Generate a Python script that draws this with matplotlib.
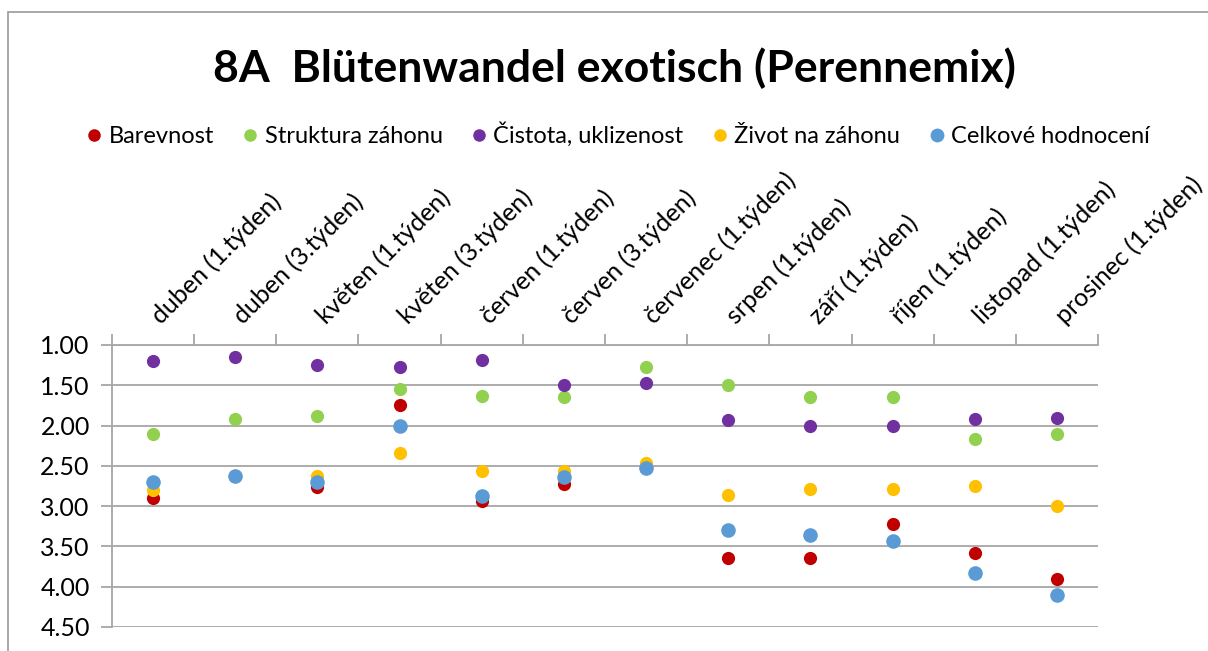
import matplotlib.pyplot as plt
import matplotlib.patches as mpatches

plt.rcParams['font.family'] = ['Lato', 'DejaVu Sans']

#kategorie (termíny hodnocení)
terminy = ['duben (1.týden)', 'duben (3.týden)', 'květen (1.týden)', 'květen (3.týden)',
           'červen (1.týden)', 'červen (3.týden)', 'červenec (1.týden)', 'srpen (1.týden)',
           'září (1.týden)', 'říjen (1.týden)', 'listopad (1.týden)', 'prosinec (1.týden)']

barevnost = [2.90, 2.62, 2.76, 1.74, 2.94, 2.72, 2.53, 3.64, 3.64, 3.22, 3.58, 3.90]
struktura = [2.10, 1.92, 1.88, 1.54, 1.63, 1.65, 1.27, 1.50, 1.65, 1.65, 2.17, 2.10]
cistota = [1.20, 1.15, 1.25, 1.27, 1.19, 1.50, 1.47, 1.93, 2.00, 2.00, 1.92, 1.90]
zivot = [2.80, 2.62, 2.62, 2.34, 2.56, 2.57, 2.46, 2.86, 2.79, 2.79, 2.75, 3.00]
celkove = [2.70, 2.62, 2.70, 2.00, 2.88, 2.64, 2.53, 3.29, 3.36, 3.43, 3.83, 4.10]

serie = [
    ('Barevnost', barevnost, '#C00000', 9.5),
    ('Struktura záhonu', struktura, '#92D050', 9.5),
    ('Čistota, uklizenost', cistota, '#7030A0', 9.5),
    ('Život na záhonu', zivot, '#FFC000', 9.5),
    ('Celkové hodnocení', celkove, '#5B9BD5', 10.5),
]

fig = plt.figure(figsize=(12.08, 6.51), dpi=100)
ax = fig.add_axes([112/1208, 1 - 627/651, 986/1208, 282/651])

x = list(range(len(terminy)))
handles = []
for nazev, hodnoty, barva, ms in serie:
    h, = ax.plot(x, hodnoty, linestyle='none', marker='o', markersize=ms,
                 color=barva, markeredgewidth=0, label=nazev)
    handles.append(h)

ax.set_xlim(-0.5, len(terminy) - 0.5)
ax.set_ylim(4.5, 1.0)
ax.set_yticks([1.0, 1.5, 2.0, 2.5, 3.0, 3.5, 4.0, 4.5])
ax.set_yticklabels(['%.2f' % v for v in ax.get_yticks()], fontsize=18)
ax.yaxis.grid(True, color='#A6A6A6', linewidth=1.3)
ax.set_axisbelow(True)
ax.tick_params(axis='y', length=8, color='#A6A6A6', width=1.3, pad=8)

#hranice kategorií nahoře
ax.xaxis.tick_top()
ax.set_xticks([i - 0.5 for i in range(len(terminy) + 1)])
ax.set_xticklabels([])
ax.tick_params(axis='x', length=8, color='#A6A6A6', width=1.3)
for i, t in enumerate(terminy):
    ax.annotate(t, xy=(i, 1.0), xycoords='data', xytext=(8, 12), textcoords='offset points',
                rotation=45, rotation_mode='anchor', ha='left', va='bottom',
                fontsize=18, color='black')

for s in ['right', 'bottom']:
    ax.spines[s].set_visible(False)
ax.spines['left'].set_color('#A6A6A6')
ax.spines['top'].set_color('#A6A6A6')
ax.spines['left'].set_linewidth(1.3)
ax.spines['top'].set_linewidth(1.3)

fig.text(614/1208, 1 - 68/651, '8A  Blütenwandel exotisch (Perennemix)', ha='center', va='center',
         fontsize=32, fontweight='bold')

leg = fig.legend(handles=handles, loc='center', bbox_to_anchor=(619/1208, 1 - 135/651), ncol=5,
                 frameon=False, fontsize=17, markerscale=0.95, handlelength=0.5,
                 handletextpad=0.35, columnspacing=1.3)

fig.patches.append(mpatches.Rectangle((8/1208, -0.1), 1.2, 1 - 12/651 + 0.1,
                                      transform=fig.transFigure, fill=False,
                                      edgecolor='#A0A0A0', linewidth=1.3))

fig.savefig('out.png', dpi=100)
